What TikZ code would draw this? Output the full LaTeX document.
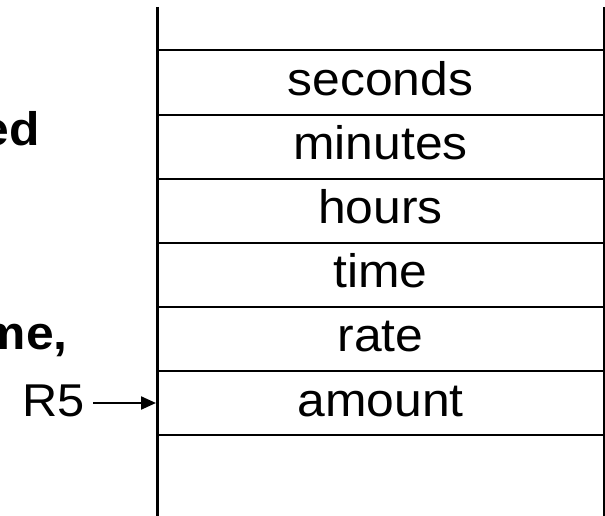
\documentclass[tikz,border=0pt]{standalone}
\usepackage{fontspec}
\setmainfont{Liberation Sans}[FakeStretch=1.06]
\usetikzlibrary{arrows.meta}
\begin{document}
\begin{tikzpicture}[x=1pt,y=-1pt,
  cell/.style={draw, line width=2pt, minimum width=447pt, minimum height=64.1pt,
    inner sep=0pt, text height=36pt, text depth=10pt,
    font=\fontsize{47}{56}\selectfont},
  side/.style={line width=3pt},
  boldlabel/.style={inner sep=0pt, anchor=base east, font=\fontsize{47}{56}\selectfont\bfseries},
  ptr/.style={line width=2.2pt, -{Triangle[length=15pt,width=13pt]}}]
  \useasboundingbox (0,0) rectangle (605,516);
  \clip (0,0) rectangle (605,516);

  % memory cells
  \node[cell] (seconds) at (380.5,82.5)  {seconds};
  \node[cell] (minutes) at (380.5,146.6) {minutes};
  \node[cell] (hours)   at (380.5,210.7) {hours};
  \node[cell] (time)    at (380.5,274.8) {time};
  \node[cell] (rate)    at (380.5,338.9) {rate};
  \node[cell] (amount)  at (380.5,403)   {amount};

  % outer walls of the memory column
  \coordinate (lt) at (157,7);
  \coordinate (lb) at (157,516);
  \coordinate (rt) at (604,7);
  \coordinate (rb) at (604,516);
  \draw[side] (lt) -- (lb);
  \draw[side] (rt) -- (rb);

  % text at the left edge
  \node[boldlabel] (ed) at (40,146) {ed};
  \node[boldlabel] (me) at (68,349) {me,};

  % register pointer
  \node[inner xsep=8pt, inner ysep=0pt, anchor=base east,
        font=\fontsize{46}{55}\selectfont] (R5) at (93,416) {R5};
  \draw[ptr] (R5.east |- amount.west) -- (amount.west);
\end{tikzpicture}
\end{document}
